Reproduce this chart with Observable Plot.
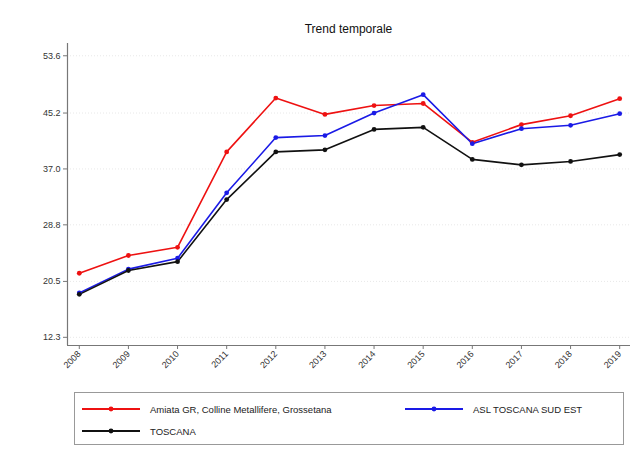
<!DOCTYPE html>
<html>
<head>
<meta charset="utf-8">
<script src="https://cdn.jsdelivr.net/npm/d3@7"></script>
<script src="https://cdn.jsdelivr.net/npm/@observablehq/plot@0.6"></script>
<style>
  html, body { margin: 0; padding: 0; background: #fff; }
  #wrap { position: relative; width: 644px; height: 465px; font-family: "Liberation Sans", Arial, sans-serif; }
  #title { position: absolute; left: 67px; width: 563px; top: 22px; text-align: center; font-size: 12px; color: #111; }
  #legend { position: absolute; left: 74px; top: 392px; width: 550px; height: 53px; border: 1px solid #999; box-sizing: border-box; font-size: 9.5px; color: #222; }
  .item { position: absolute; display: flex; align-items: center; white-space: nowrap; }
  .item svg { margin-right: 10px; }
</style>
</head>
<body>
<div id="wrap">
  <div id="chart"></div>
  <div id="title">Trend temporale</div>
  <div id="legend"></div>
</div>
<script>
const years = [2008, 2009, 2010, 2011, 2012, 2013, 2014, 2015, 2016, 2017, 2018, 2019];
const seriesNames = ["Amiata GR, Colline Metallifere, Grossetana", "ASL TOSCANA SUD EST", "TOSCANA"];
const seriesColors = ["#ee1111", "#1a1ae6", "#111111"];
const amiataValues = [21.7, 24.3, 25.5, 39.5, 47.4, 45.0, 46.3, 46.6, 40.9, 43.5, 44.8, 47.3];
const aslValues    = [18.8, 22.3, 23.9, 33.5, 41.6, 41.9, 45.2, 47.9, 40.7, 42.9, 43.4, 45.1];
const toscanaValues= [18.6, 22.1, 23.4, 32.5, 39.5, 39.8, 42.8, 43.1, 38.4, 37.6, 38.1, 39.1];
const yTickValues = [12.3, 20.5, 28.8, 37.0, 45.2, 53.6];
const yTickLabels = ["12.3", "20.5", "28.8", "37.0", "45.2", "53.6"];

const seriesValues = [amiataValues, aslValues, toscanaValues];
const data = [];
seriesNames.forEach((name, i) => {
  years.forEach((yr, j) => data.push({ series: name, year: yr, value: seriesValues[i][j] }));
});

const xDomain = [2007.76, 2019.22];
const yDomain = [11.1, 55.4];
const axisColor = "#777";

const chart = Plot.plot({
  width: 644,
  height: 465,
  marginLeft: 67,
  marginRight: 14,
  marginTop: 43,
  marginBottom: 120,
  style: { fontFamily: "Liberation Sans, Arial, sans-serif", fontSize: "9px", color: "#333", background: "transparent" },
  x: { type: "linear", domain: xDomain, ticks: years, tickFormat: d => String(d), tickRotate: -45, tickSize: 4, tickPadding: 3, label: null },
  y: { domain: yDomain, ticks: yTickValues, tickFormat: (d, i) => yTickLabels[yTickValues.indexOf(d)], tickSize: 4, tickPadding: 3, label: null },
  color: { domain: seriesNames, range: seriesColors },
  marks: [
    Plot.gridY(yTickValues, { stroke: "#e8e8e8", strokeOpacity: 1, strokeDasharray: "1,2" }),
    Plot.axisY({ ticks: yTickValues, tickFormat: (d) => yTickLabels[yTickValues.indexOf(d)], tickSize: 4, tickPadding: 3, stroke: axisColor, label: null }),
    Plot.axisX({ ticks: years, tickFormat: d => String(d), tickRotate: -45, tickSize: 4, tickPadding: 3, stroke: axisColor, label: null }),
    Plot.ruleX([xDomain[0]], { stroke: axisColor, strokeWidth: 1.2 }),
    Plot.ruleY([yDomain[0]], { stroke: axisColor, strokeWidth: 1.2 }),
    Plot.line(data, { x: "year", y: "value", z: "series", stroke: "series", strokeWidth: 1.6 }),
    Plot.dot(data, { x: "year", y: "value", fill: "series", r: 2.4 })
  ]
});
document.getElementById("chart").appendChild(chart);

// legend
const legend = document.getElementById("legend");
const positions = [[7, 16], [330, 16], [7, 38]];
seriesNames.forEach((name, i) => {
  const item = document.createElement("div");
  item.className = "item";
  item.style.left = positions[i][0] + "px";
  item.style.top = (positions[i][1] - 6) + "px";
  const sw = d3.create("svg").attr("width", 58).attr("height", 12);
  sw.append("line").attr("x1", 0).attr("x2", 58).attr("y1", 6).attr("y2", 6).attr("stroke", seriesColors[i]).attr("stroke-width", 2);
  sw.append("circle").attr("cx", 29).attr("cy", 6).attr("r", 2.4).attr("fill", seriesColors[i]);
  item.appendChild(sw.node());
  const t = document.createElement("span");
  t.textContent = name;
  item.appendChild(t);
  legend.appendChild(item);
});
</script>
</body>
</html>
